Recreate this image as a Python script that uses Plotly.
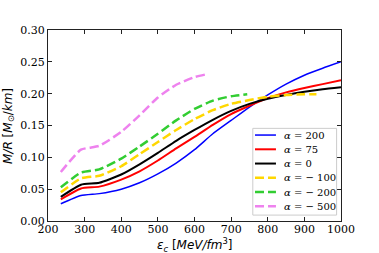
import plotly.graph_objects as go

# ---- data ----
x_common = [235, 290, 340, 400, 450, 500, 550, 600, 650, 700, 750, 800, 850, 900, 950, 1000]

y_a200 = [0.027, 0.040, 0.043, 0.050, 0.060, 0.074, 0.091, 0.112, 0.137, 0.158, 0.179, 0.198, 0.215, 0.229, 0.240, 0.250]
y_a75 = [0.034, 0.051, 0.054, 0.065, 0.078, 0.095, 0.114, 0.132, 0.151, 0.168, 0.181, 0.193, 0.202, 0.209, 0.215, 0.221]
y_a0 = [0.038, 0.057, 0.060, 0.073, 0.089, 0.107, 0.126, 0.143, 0.159, 0.173, 0.184, 0.192, 0.198, 0.203, 0.207, 0.210]

x_am100 = [235, 290, 340, 400, 450, 500, 550, 600, 650, 700, 750, 800, 850, 900, 933]
y_am100 = [0.045, 0.067, 0.071, 0.086, 0.105, 0.124, 0.143, 0.160, 0.174, 0.184, 0.190, 0.195, 0.198, 0.199, 0.199]

x_am200 = [235, 290, 340, 400, 450, 500, 550, 600, 650, 700, 744]
y_am200 = [0.053, 0.076, 0.081, 0.098, 0.117, 0.137, 0.158, 0.176, 0.189, 0.196, 0.199]

x_am500 = [235, 290, 340, 400, 450, 500, 550, 600, 629]
y_am500 = [0.077, 0.112, 0.118, 0.140, 0.166, 0.194, 0.214, 0.226, 0.230]

labels = ["<i>α</i> = 200", "<i>α</i> = 75", "<i>α</i> = 0",
          "<i>α</i> = − 100", "<i>α</i> = − 200", "<i>α</i> = − 500"]

x_ticks = [200, 300, 400, 500, 600, 700, 800, 900, 1000]
y_ticks = [0.00, 0.05, 0.10, 0.15, 0.20, 0.25, 0.30]

DASH = "9px,4px"
series = [
    (x_common, y_a200, labels[0], "#0000ff", 1.5, "solid"),
    (x_common, y_a75, labels[1], "#ff0000", 2, "solid"),
    (x_common, y_a0, labels[2], "#000000", 2, "solid"),
    (x_am100, y_am100, labels[3], "#ffd700", 2.5, DASH),
    (x_am200, y_am200, labels[4], "#32cd32", 2.5, DASH),
    (x_am500, y_am500, labels[5], "#ee82ee", 2.5, DASH),
]

fig = go.Figure()
for xs, ys, name, color, w, dash in series:
    fig.add_trace(go.Scatter(
        x=xs, y=ys, mode="lines", name=name, showlegend=False,
        line=dict(color=color, width=w, dash=dash, shape="spline", smoothing=0.5),
    ))

axis_common = dict(
    showgrid=False, zeroline=False, showline=True, linecolor="#222222", linewidth=1,
    mirror="allticks", ticks="inside", ticklen=4, tickwidth=1, tickcolor="#222222",
    tickfont=dict(family="DejaVu Serif", size=11, color="#000000"),
)

fig.update_layout(
    width=379, height=253,
    margin=dict(l=48, r=38, t=30, b=32),
    paper_bgcolor="white", plot_bgcolor="white",
    xaxis=dict(range=[200, 1000], tickvals=x_ticks, ticktext=[str(v) for v in x_ticks],
               ticklabelstandoff=-2, **axis_common),
    yaxis=dict(range=[0, 0.30], tickvals=y_ticks, ticktext=[f"{v:.2f}" for v in y_ticks], **axis_common),
    showlegend=False,
)

# ---- compact legend box (matplotlib-like spacing) ----
fig.add_shape(type="rect", xref="paper", yref="paper",
              x0=0.699, x1=0.985, y0=0.031, y1=0.485,
              line=dict(color="#cccccc", width=1), fillcolor="white", layer="above")
row_top, row_step = 0.450, 0.0746
for i, (xs, ys, name, color, w, dash) in enumerate(series):
    yy = row_top - i * row_step
    fig.add_shape(type="line", xref="paper", yref="paper",
                  x0=0.7065, x1=0.778, y0=yy, y1=yy,
                  line=dict(color=color, width=w, dash=dash), layer="above")
    fig.add_annotation(text=name, xref="paper", yref="paper", x=0.799, y=yy,
                       xanchor="left", yanchor="middle", showarrow=False,
                       font=dict(family="DejaVu Serif", size=10, color="#000000"))

fig.add_annotation(
    text="<i>ε<sub>c</sub></i> [<i>MeV/fm</i><sup>3</sup>]",
    xref="paper", yref="paper", x=0.5, y=-0.07, xanchor="center", yanchor="top",
    showarrow=False, font=dict(family="DejaVu Sans", size=12, color="#000000"),
)
fig.add_annotation(
    text="<i>M/R</i> [<i>M</i><sub>⊙</sub>/<i>km</i>]",
    xref="paper", yref="paper", x=-0.135, y=0.5, xanchor="center", yanchor="middle",
    textangle=-90, showarrow=False, font=dict(family="DejaVu Sans", size=12, color="#000000"),
)

fig.write_html("out.html", config={"displayModeBar": False},
               post_script="document.body.style.margin='0';")
